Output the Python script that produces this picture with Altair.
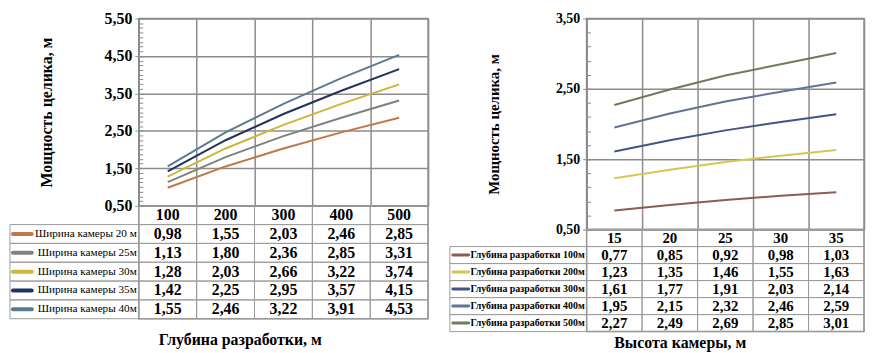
import altair as alt
import pandas as pd

# ---------------- data ----------------
depth_cats = ["100", "200", "300", "400", "500"]
width_series = ["Ширина камеры 20 м", "Ширина камеры 25м", "Ширина камеры 30м",
                "Ширина камеры 35м", "Ширина камеры 40м"]
w20 = [0.98, 1.55, 2.03, 2.46, 2.85]
w25 = [1.13, 1.80, 2.36, 2.85, 3.31]
w30 = [1.28, 2.03, 2.66, 3.22, 3.74]
w35 = [1.42, 2.25, 2.95, 3.57, 4.15]
w40 = [1.55, 2.46, 3.22, 3.91, 4.53]
left_colors = ["#c07848", "#808080", "#cdb63c", "#23325e", "#5b7b92"]

height_cats = ["15", "20", "25", "30", "35"]
depth_series = ["Глубина разработки 100м", "Глубина разработки 200м", "Глубина разработки 300м",
                "Глубина разработки 400м", "Глубина разработки 500м"]
d100 = [0.77, 0.85, 0.92, 0.98, 1.03]
d200 = [1.23, 1.35, 1.46, 1.55, 1.63]
d300 = [1.61, 1.77, 1.91, 2.03, 2.14]
d400 = [1.95, 2.15, 2.32, 2.46, 2.59]
d500 = [2.27, 2.49, 2.69, 2.85, 3.01]
right_colors = ["#8a5e50", "#d6c652", "#44548a", "#5e7594", "#6c7c5e"]

left_yticks = [0.5, 1.5, 2.5, 3.5, 4.5, 5.5]
right_yticks = [0.5, 1.5, 2.5, 3.5]

SERIF = "Liberation Serif"
GRID = "#8c8c8c"
TABLE = "#9c9c9c"
COMMA = "replace(format(datum.value, '.2f'), '.', ',')"


def panel(cats, series, values, colors, W, HP, HT, ydom, yticks, minor_step,
          ytitle, xtitle, legend_w, legend_size, legend_weight, sw_x1, sw_x2, sw_w,
          tick_size, val_size, head_size, ytitle_size, ytitle_x, xtitle_x, xtitle_y):
    rows = []
    for s, vals in zip(series, values):
        for c, v in zip(cats, vals):
            rows.append({"cat": c, "series": s, "value": v})
    df = pd.DataFrame(rows)

    x_line = alt.X("cat:O", sort=cats,
                   scale=alt.Scale(type="band", domain=cats, paddingInner=0, paddingOuter=0),
                   axis=alt.Axis(grid=True, tickBand="extent", labels=False, ticks=False,
                                 domain=False, title=None, gridColor=GRID, gridWidth=1.5))
    yscale = alt.Scale(domain=ydom, nice=False, zero=False)
    n_minor = int(round((ydom[1] - ydom[0]) / minor_step))
    minor_vals = [round(ydom[0] + i * minor_step, 4) for i in range(n_minor + 1)]

    y_major = alt.Y("value:Q", scale=yscale,
                    axis=alt.Axis(orient="left", values=yticks, labelExpr=COMMA,
                                  grid=True, gridColor=GRID, gridWidth=1.5,
                                  domainColor=GRID, domainWidth=1.5,
                                  tickColor=GRID, tickSize=4, tickWidth=1,
                                  labelFont=SERIF, labelFontSize=tick_size,
                                  labelFontWeight="bold", labelColor="black", labelPadding=3,
                                  title=ytitle, titleFont=SERIF, titleFontSize=ytitle_size,
                                  titleFontWeight="bold", titleColor="black",
                                  titleX=ytitle_x, titleBaseline="middle"))
    y_minor = alt.Y("value:Q", scale=yscale,
                    axis=alt.Axis(orient="left", values=minor_vals, labels=False, grid=False,
                                  domain=False, ticks=True, tickSize=4, tickWidth=1,
                                  tickColor=GRID, offset=-4, title=None))
    color = alt.Color("series:N", scale=alt.Scale(domain=series, range=colors), legend=None)

    base = alt.Chart(df)
    lines = base.mark_line(strokeWidth=2).encode(x=x_line, y=y_major, color=color)
    minor = base.mark_line(opacity=0).encode(x=x_line, y=y_minor, color=color)
    line_chart = alt.layer(lines, minor).resolve_axis(y="independent").properties(
        width=W, height=HP)

    # ---- table ----
    trows = ["hdr"] + series
    cells = []
    for c in cats:
        cells.append({"cat": c, "row": "hdr", "value": None, "txt": c})
    for r in rows:
        cells.append({"cat": r["cat"], "row": r["series"], "value": r["value"], "txt": None})
    tdf = pd.DataFrame(cells)
    ldf = pd.DataFrame({"row": series})

    x_t = alt.X("cat:O", sort=cats,
                scale=alt.Scale(type="band", domain=cats, paddingInner=0, paddingOuter=0),
                axis=alt.Axis(labels=False, ticks=False, domain=False, grid=False,
                              title=xtitle, titleFont=SERIF, titleFontSize=16,
                              titleFontWeight="bold", titleColor="black",
                              titleX=xtitle_x, titleY=xtitle_y, titleBaseline="middle"))
    y_t = alt.Y("row:N", sort=trows,
                scale=alt.Scale(domain=trows, paddingInner=0, paddingOuter=0), axis=None)

    tbase = alt.Chart(tdf).transform_calculate(
        label="datum.row == 'hdr' ? datum.txt : " + COMMA)
    cell_rect = tbase.mark_rect(fillOpacity=0, stroke=TABLE, strokeWidth=1).encode(x=x_t, y=y_t)
    cell_txt_v = tbase.transform_filter("datum.row != 'hdr'").mark_text(
        font=SERIF, fontSize=val_size, fontWeight="bold", color="black").encode(
        x=x_t, y=y_t, text="label:N")
    cell_txt_h = tbase.transform_filter("datum.row == 'hdr'").mark_text(
        font=SERIF, fontSize=head_size, fontWeight="bold", color="black").encode(
        x=x_t, y=y_t, text="label:N")

    lbase = alt.Chart(ldf)
    leg_rect = lbase.mark_rect(fillOpacity=0, stroke=TABLE, strokeWidth=1).encode(
        y=y_t, x=alt.value(-legend_w), x2=alt.value(0))
    leg_sw = lbase.mark_rule(strokeWidth=sw_w, strokeCap="round").encode(
        y=y_t, x=alt.value(sw_x1), x2=alt.value(sw_x2),
        color=alt.Color("row:N", scale=alt.Scale(domain=series, range=colors), legend=None))
    leg_txt = lbase.mark_text(align="right", font=SERIF, fontSize=legend_size,
                              fontWeight=legend_weight, color="black").encode(
        y=y_t, x=alt.value(-2), text="row:N")

    table = alt.layer(cell_rect, leg_rect, leg_sw, leg_txt, cell_txt_v, cell_txt_h).properties(
        width=W, height=HT)
    return alt.vconcat(line_chart, table, spacing=0, bounds="flush")


left = panel(depth_cats, width_series, [w20, w25, w30, w35, w40], left_colors,
             W=292, HP=189, HT=114, ydom=[0.5, 5.5], yticks=left_yticks, minor_step=0.125,
             ytitle="Мощность целика, м", xtitle="Глубина разработки, м",
             legend_w=130, legend_size=11.3, legend_weight="normal",
             sw_x1=-127, sw_x2=-108, sw_w=4,
             tick_size=16, val_size=16, head_size=16, ytitle_size=16,
             ytitle_x=-93, xtitle_x=102, xtitle_y=21)

right = panel(height_cats, depth_series, [d100, d200, d300, d400, d500], right_colors,
              W=280, HP=213, HT=103, ydom=[0.5, 3.5], yticks=right_yticks, minor_step=0.2,
              ytitle="Мощность целика, м", xtitle="Высота камеры, м",
              legend_w=138, legend_size=10, legend_weight="bold",
              sw_x1=-135, sw_x2=-119, sw_w=3,
              tick_size=14, val_size=15, head_size=15, ytitle_size=15,
              ytitle_x=-94, xtitle_x=94, xtitle_y=11)

chart = alt.hconcat(left, right, spacing=18, padding=0).resolve_scale(
    color="independent").configure_view(stroke=GRID, strokeWidth=1.5)

chart.save("out.html", embed_options={"renderer": "svg", "actions": False})
